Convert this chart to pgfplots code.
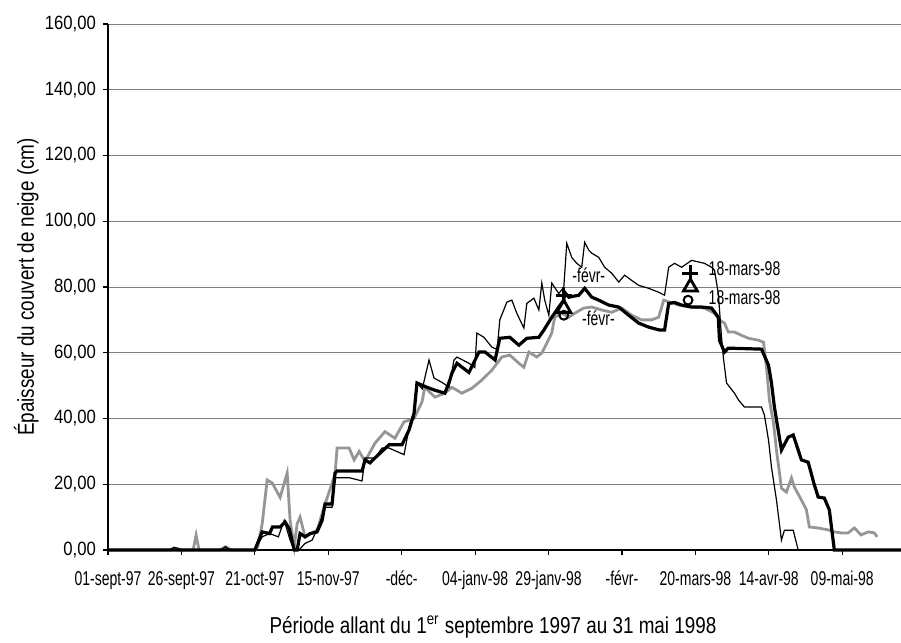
\documentclass[border=0pt]{standalone}
\usepackage{pgfplots}
\pgfplotsset{compat=1.18}
\usepackage{fontspec}
\setmainfont{Liberation Sans}
\newfontfamily\xtfam{Liberation Sans}[FakeStretch=0.7]
\newfontfamily\ytfam{Liberation Sans}[FakeStretch=0.87]
\newfontfamily\lblfam{Liberation Sans}[FakeStretch=0.82]
\newcommand\xtf{\xtfam\fontsize{10pt}{11pt}\selectfont}
\newcommand\ytf{\ytfam\fontsize{9.6pt}{11pt}\selectfont}
\newcommand\lblf{\lblfam\fontsize{11.5pt}{13pt}\selectfont}
\definecolor{grayline}{RGB}{150,150,150}
\begin{document}
\begin{tikzpicture}
\path[use as bounding box] (0,0) rectangle (450.5pt,321.5pt);
\begin{axis}[
  at={(54pt,46.5pt)}, anchor=south west,
  scale only axis, width=396.5pt, height=263pt,
  xmin=0, xmax=270, ymin=0, ymax=160,
  clip=false,
  axis x line*=bottom, axis y line*=left,
  axis line style={-, line width=0.7pt, black},
  tick align=outside, major tick length=2.5pt,
  tick style={black, line width=0.6pt},
  xtick={0,25,...,250},
  xticklabels={01-sept-97,26-sept-97,21-oct-97,15-nov-97,-déc-,04-janv-98,29-janv-98,-févr-,20-mars-98,14-avr-98,09-mai-98},
  ytick={0,20,...,160},
  yticklabels={{0,00},{20,00},{40,00},{60,00},{80,00},{100,00},{120,00},{140,00},{160,00}},
  xticklabel style={font=\xtf, yshift=-4.5pt},
  yticklabel style={font=\ytf},
  ymajorgrids, major grid style={black!50, line width=0.45pt},
  xlabel={Période allant du 1\textsuperscript{er} septembre 1997 au 31 mai 1998},
  ylabel={Épaisseur du couvert de neige (cm)},
  xlabel style={font=\lblf, at={(axis description cs:0.4855,-0.1464)}, anchor=center},
  ylabel style={font=\lblf, at={(axis description cs:-0.103,0.5)}, anchor=center},
]
% gray series
\addplot[grayline, line width=1.4pt] coordinates {
(0,0) (21,0) (22.5,0.6) (24,0) (29,0) (30,4.5) (31,0) (38,0) (40,1) (42,0) (50,0)
(51,1) (52.5,8) (54.2,21.3) (55.9,20.4) (58.6,16) (61,23.4) (62,9) (63.4,1) (64.4,8) (65.4,10)
(67.1,4) (71.2,6) (73.9,14) (77.3,23) (78,31) (82.1,31) (83.8,27.4) (85.5,30) (87.5,27)
(90.9,32.5) (94.3,36) (97.7,34) (100.8,39) (104.2,40) (106.9,45) (107.9,49.5) (111.3,46.5)
(114.7,47.7) (117.1,49.5) (120.5,47.7) (123.9,49.2) (127.3,51.7) (130.7,54.7) (134.1,58.7)
(136.8,59.3) (139.9,56.8) (141.6,55.6) (143.3,60.2) (146,58.7) (147.7,59.9) (149.4,62.9)
(151.1,66) (152.1,70.8) (154.5,72) (156.9,70.8) (158.9,72) (162,73.6) (164.7,73.9) (168.1,73)
(171.5,72.3) (174.9,73.6) (178.3,71.4) (181.7,70) (185.1,70) (187.5,70.8) (189.2,76) (194.3,74.5)
(198.7,73.9) (203.1,73.6) (206.5,72) (208.2,70) (209.9,69) (211.2,66.3) (213.3,66.3) (215.7,65.3)
(218.1,64.4) (221.5,63.8) (223.2,63.2) (224.2,55.6) (225.2,45.6) (226.6,38.6) (227.6,30.4)
(229.3,18.8) (231,17.6) (232.7,21.9) (233.7,19.1) (236.1,15.2) (237.8,12.2) (238.8,7) (241.8,6.7)
(245.3,6.1) (247.3,5.5) (249.7,5.2) (252,5.2) (254.1,6.7) (256.4,4.6) (258.9,5.5) (260.9,5.2) (261.9,4)
};
% thin black series
\addplot[black, line width=0.6pt] coordinates {
(0,0) (21,0) (22.5,0.8) (24,0.5) (25,0) (38.5,0) (40,1) (41.5,0) (50,0)
(52.5,4) (55,5) (58,4) (60,9) (62,3) (63.4,0) (65,0) (67.1,2) (69.5,3) (72,8) (74,13) (76.3,13)
(77.3,22) (82.1,22) (86.5,21) (87.5,28) (90.9,28) (93.3,31) (95.7,31) (100.8,29) (102.8,38.6)
(104.2,40) (105.2,50.8) (107,49) (109.3,57.8) (111,52.3) (113.7,51) (116.1,49.5) (117.8,57.8)
(118.8,58.7) (122.9,56.8) (124.9,55.5) (125.6,66) (128,64.7) (130.7,61.7) (132.5,61) (133.4,70)
(135.8,75.4) (137.5,76) (139.2,72) (141.6,67.5) (142.6,75) (145,76.6) (146.7,73) (147.7,81.2)
(148.7,76) (150.1,71.4) (151.1,81.2) (153.5,78) (155.2,80) (156.2,93.3) (157.9,89) (159.6,87.2)
(161.3,86) (162.3,93.6) (163.7,91.2) (164.7,90.3) (167.1,89) (169.1,86) (171.5,84.2) (173.9,81.5)
(175.9,83.6) (178.3,82) (180.7,80.5) (184.1,79.6) (187.5,78.4) (189.5,77.5) (190.9,86) (192.9,87.2)
(195.3,86) (198.7,88.1) (203.1,87.2) (205.5,86) (206.5,85.1) (207.8,78) (208.9,64.7) (209.5,58.7)
(210.6,50.8) (213.3,47.7) (214.7,45.6) (216.7,43.5) (222.5,43.5) (223.5,41) (224.9,33.4)
(225.9,25.2) (227.6,15.2) (229.3,3) (230.3,6) (233.3,6) (235,0) (236,0)
};
% thick black series
\addplot[black, line width=1.6pt] coordinates {
(0,0) (50,0) (52.5,5.5) (55,5) (56,7) (58.6,7) (60.3,8.5) (61.7,6.5) (63.4,0) (64.4,0) (65.4,5)
(67.1,4) (68.8,5) (71.2,5.5) (72.9,9) (73.9,14) (76.3,14) (77.3,23.4) (78,24) (86.5,24) (87.5,27.4)
(89.2,26.5) (90.9,28) (93.3,30) (95.7,32) (100.1,32) (102.5,36.5) (104.2,41.6) (105.2,50.8)
(108.6,49.5) (111.3,48.6) (114.7,47.7) (116.4,51.7) (117.1,53.8) (118.8,56.8) (122.9,54)
(126.3,60.2) (128.4,60.2) (131.8,57.8) (133.4,64.4) (136.8,64.7) (139.9,62.3) (142.6,64.4)
(146.7,64.7) (148.4,66.9) (151.1,70.8) (153.5,73.9) (155.2,76) (155.5,78.4) (156.9,76.9)
(160.3,77.5) (162.3,79.6) (164.7,76.9) (167.1,76) (170.5,74.5) (173.9,73.9) (177.3,71.4) (180.7,69)
(184.1,67.8) (187.8,66.9) (189.5,66.9) (190.9,75) (192.9,75.3) (195.3,74.5) (198.7,73.9)
(202.1,73.9) (205.5,73.6) (207.8,70.8) (208.2,63.8) (209.9,60.2) (211.2,61.4) (222.5,61.1)
(224.9,56.2) (225.9,50.8) (226.9,43.5) (229.3,30.4) (231.6,34.3) (233.3,35) (236.1,27.4)
(238.4,26.7) (240.5,19.8) (241.8,16.1) (243.9,15.8) (245.6,12.2) (247.3,0) (270,0)
};
% observation markers
\addplot[only marks, mark=+, mark size=4pt, line width=1.4pt, black] coordinates {(155.2,77.5) (198.3,84.2)};
\addplot[only marks, mark=triangle, mark size=4pt, line width=1.4pt, black] coordinates {(155.2,73.5) (198.3,80)};
\addplot[only marks, mark=o, mark size=2.2pt, line width=1pt, black] coordinates {(155.2,71.4) (197.5,76)};
\node[anchor=west, font=\xtf, inner sep=0pt] at (axis cs:158,83.6) {-févr-};
\node[anchor=west, font=\xtf, inner sep=0pt] at (axis cs:161.3,70.5) {-févr-};
\node[anchor=west, font=\xtf, inner sep=0pt] at (axis cs:204.4,85.7) {18-mars-98};
\node[anchor=west, font=\xtf, inner sep=0pt] at (axis cs:204.4,76.9) {18-mars-98};
\end{axis}
\end{tikzpicture}
\end{document}
